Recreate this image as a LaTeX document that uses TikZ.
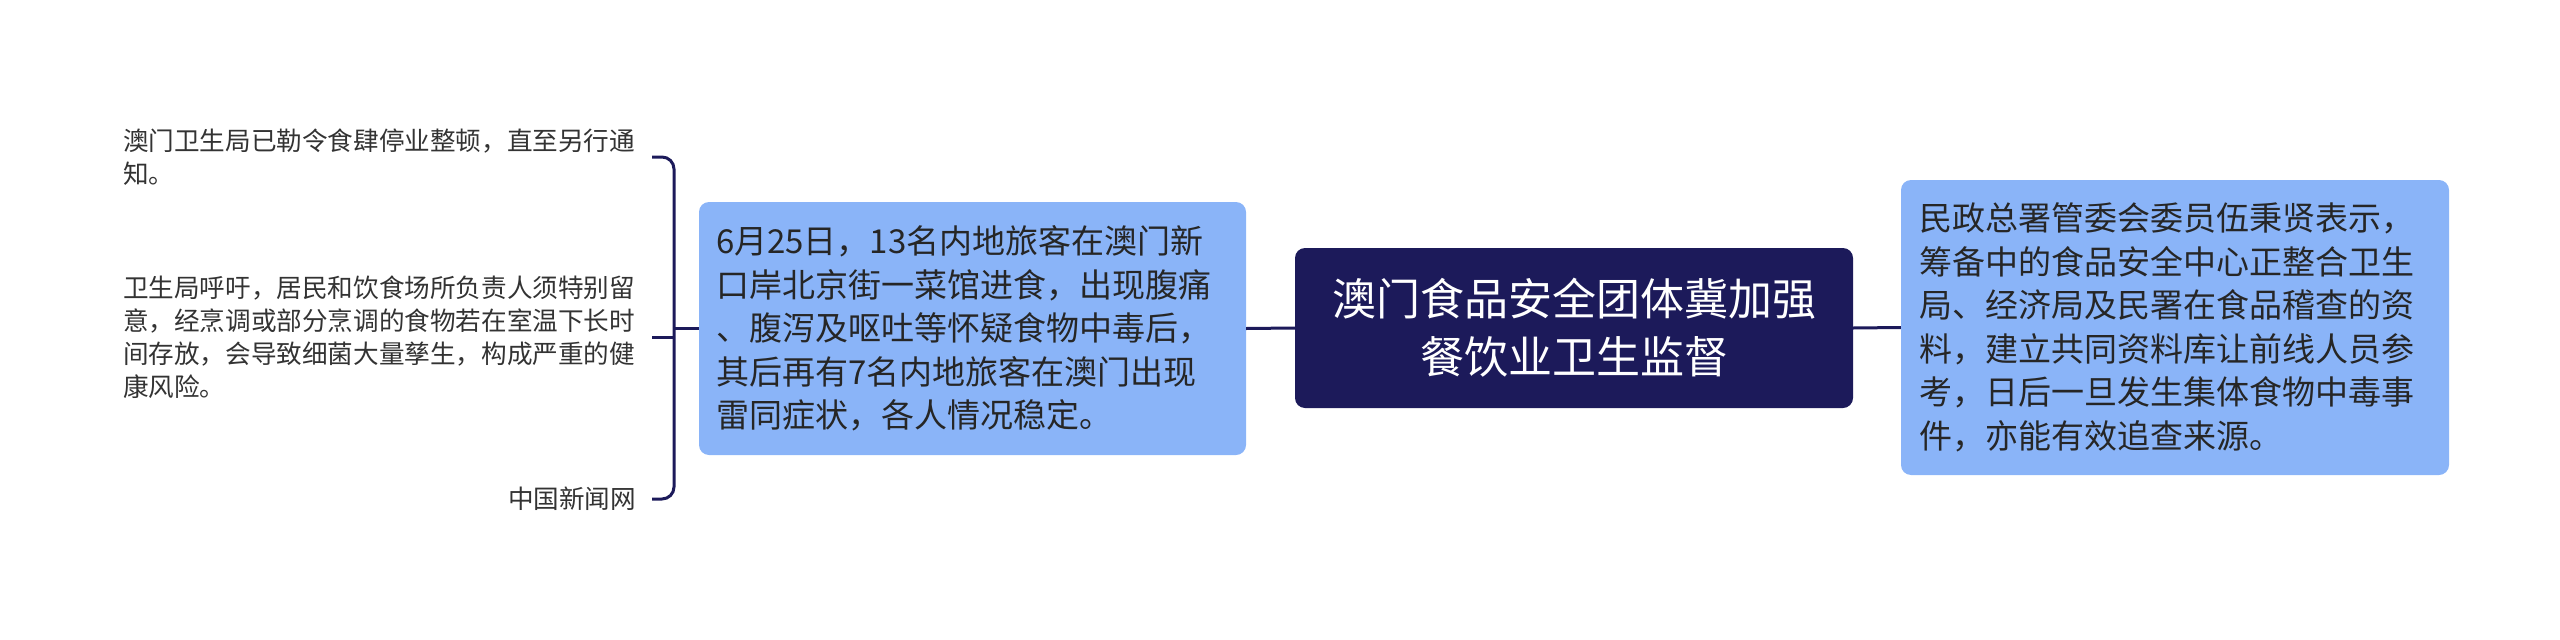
\documentclass[tikz,border=0pt]{standalone}
\usepackage{fontspec}
\setmainfont{Noto Sans CJK SC}
\definecolor{navy}{HTML}{1C1A5A}
\definecolor{lblue}{HTML}{8AB4F8}
\definecolor{txt}{HTML}{262626}
\definecolor{stxt}{HTML}{333333}
\tikzset{
  conn/.style={draw=navy, line width=3pt},
  topic/.style={fill=navy, rounded corners=10pt, text=white, align=center,
    minimum width=558pt, minimum height=160pt, inner sep=0pt,
    font=\fontsize{44pt}{58pt}\selectfont},
  sub/.style={fill=lblue, rounded corners=10pt, text=txt, align=left,
    inner xsep=17pt, inner ysep=0pt,
    font=\fontsize{33pt}{43.5pt}\selectfont},
  leaf/.style={text=stxt, inner sep=0pt, outer sep=0pt,
    font=\fontsize{25.6pt}{33pt}\selectfont},
}
\begin{document}
\begin{tikzpicture}[x=1pt,y=-1pt]
\useasboundingbox (0,0) rectangle (2560,640);
\node[topic] (c) at (1574,328) {澳门食品安全团体冀加强\\餐饮业卫生监督};
\node[sub, text width=513pt, minimum height=253pt] (l) at (972.5,328.5)
  {6月25日，13名内地旅客在澳门新\\口岸北京街一菜馆进食，出现腹痛\\、腹泻及呕吐等怀疑食物中毒后，\\其后再有7名内地旅客在澳门出现\\雷同症状，各人情况稳定。};
\node[sub, text width=512pt, minimum height=295pt, inner xsep=18pt] (r) at (2175,327.5)
  {民政总署管委会委员伍秉贤表示，\\筹备中的食品安全中心正整合卫生\\局、经济局及民署在食品稽查的资\\料，建立共同资料库让前线人员参\\考，日后一旦发生集体食物中毒事\\件，亦能有效追查来源。};
\node[leaf, text width=513pt, align=left, anchor=west] (t1) at (123,157)
  {澳门卫生局已勒令食肆停业整顿，直至另行通\\知。};
\node[leaf, text width=513pt, align=left, anchor=west] (t2) at (123,337)
  {卫生局呼吁，居民和饮食场所负责人须特别留\\意，经烹调或部分烹调的食物若在室温下长时\\间存放，会导致细菌大量孳生，构成严重的健\\康风险。};
\node[leaf, anchor=east] (t3) at (636,499) {中国新闻网};
\coordinate (bx) at (674,328);
\draw[conn] (c.west) -- (l.east);
\draw[conn] (c.east) -- (r.west);
\draw[conn] (bx) -- (bx -| l.west);
\draw[conn, rounded corners=12pt] ([xshift=16pt]t1.east) -| (bx) |- ([xshift=16pt]t3.east);
\draw[conn] ([xshift=16pt]t2.east) -- (t2.east -| bx);
\end{tikzpicture}
\end{document}
